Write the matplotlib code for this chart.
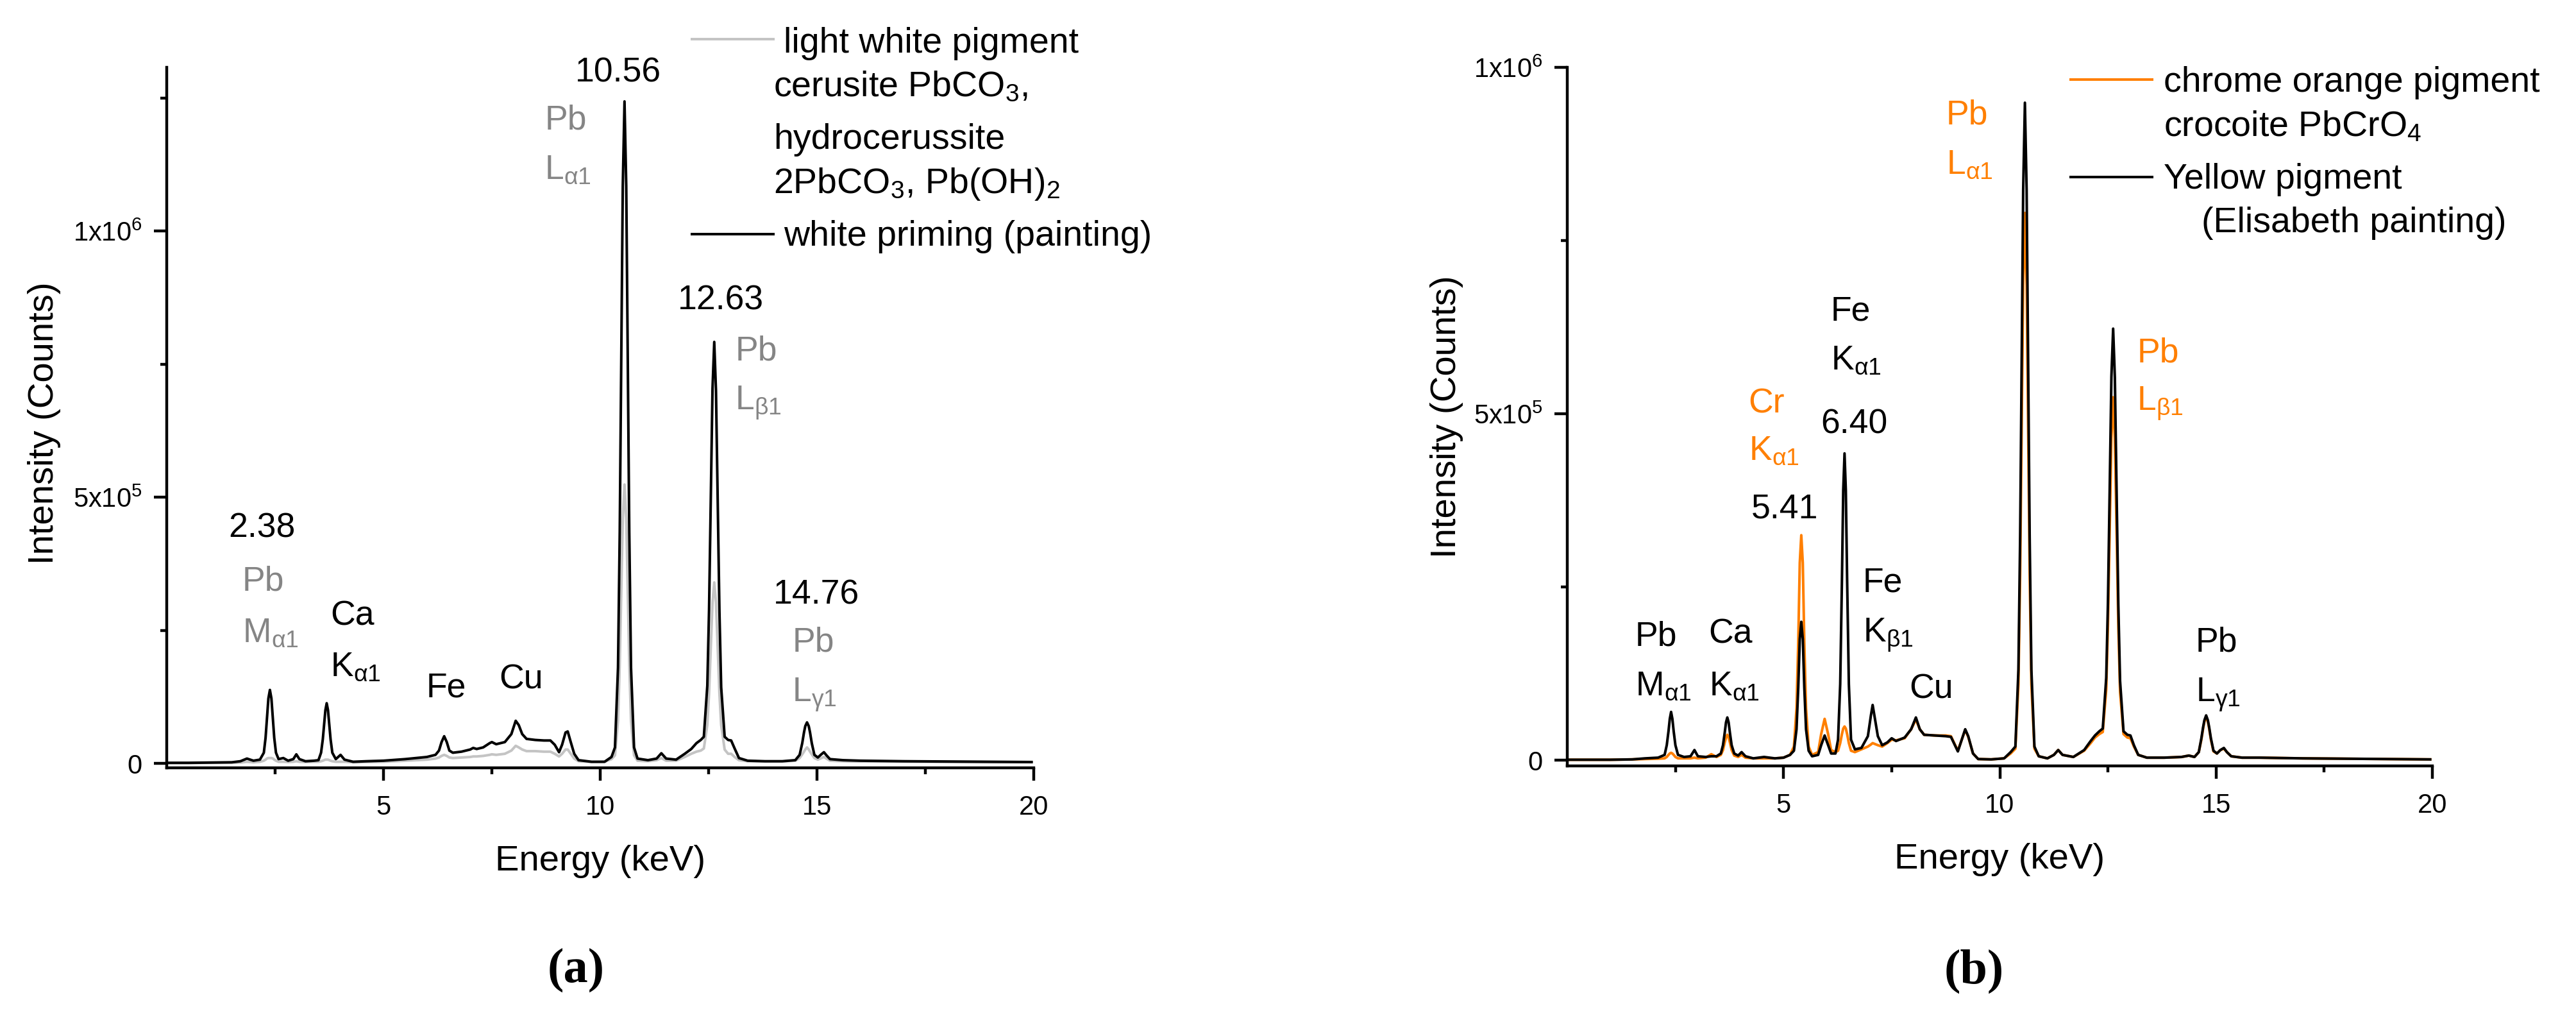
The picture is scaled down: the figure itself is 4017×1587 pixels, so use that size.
import matplotlib
matplotlib.use("Agg")
import matplotlib.pyplot as plt
from matplotlib.ticker import FixedLocator

plt.rcParams['font.family'] = ['Liberation Sans', 'DejaVu Sans']
plt.rcParams['mathtext.fontset'] = 'custom'
plt.rcParams['mathtext.rm'] = 'Liberation Sans'
plt.rcParams['mathtext.it'] = 'Liberation Sans:italic'
plt.rcParams['mathtext.bf'] = 'Liberation Sans:bold'

# ---- panel (a): white priming vs. lead white reference (counts in thousands)
energy_a = [
    0.05, 0.5, 1.0, 1.5, 1.7, 1.85, 2.0, 2.15, 2.24, 2.28,
    2.31, 2.345, 2.38, 2.415, 2.45, 2.48, 2.52, 2.58, 2.69, 2.8,
    2.92, 2.99, 3.06, 3.2, 3.4, 3.5, 3.56, 3.6, 3.63, 3.66,
    3.69, 3.72, 3.75, 3.78, 3.82, 3.9, 4.01, 4.1, 4.3, 4.6,
    5.0, 5.5, 6.0, 6.2, 6.28, 6.34, 6.40, 6.46, 6.52, 6.6,
    6.8, 7.0, 7.07, 7.15, 7.3, 7.45, 7.5, 7.6, 7.8, 7.95,
    8.05, 8.12, 8.2, 8.3, 8.5, 8.7, 8.85, 8.95, 9.05, 9.12,
    9.2, 9.25, 9.32, 9.4, 9.5, 9.8, 10.1, 10.26, 10.34, 10.41,
    10.45, 10.485, 10.52, 10.56, 10.60, 10.635, 10.67, 10.71, 10.78, 10.86,
    11.1, 11.3, 11.41, 11.52, 11.75, 11.95, 12.1, 12.22, 12.32, 12.39,
    12.47, 12.51, 12.55, 12.59, 12.63, 12.67, 12.71, 12.75, 12.79, 12.87,
    12.95, 13.02, 13.1, 13.2, 13.4, 13.8, 14.2, 14.5, 14.6, 14.66,
    14.7, 14.73, 14.77, 14.81, 14.84, 14.88, 14.94, 15.02, 15.1, 15.16,
    15.22, 15.3, 15.6, 16.0, 17.0, 18.0, 19.0, 19.95,
]
priming_a = [
    1, 1, 1.5, 2, 4, 9, 5, 7, 20, 48,
    83, 122, 138, 122, 83, 48, 20, 8, 10, 5,
    8, 17, 8, 4, 5, 6, 20, 45, 72, 100,
    113, 100, 72, 45, 20, 8, 16, 7, 3, 4,
    5, 8, 12, 16, 24, 40, 51, 40, 24, 20,
    22, 26, 29, 27, 30, 38, 40, 36, 40, 55,
    80, 72, 55, 46, 44, 43, 43, 35, 21, 35,
    58, 60, 40, 18, 6, 3, 3, 12, 30, 180,
    435, 765, 1085, 1244, 1085, 765, 435, 180, 30, 9,
    6, 9, 19, 9, 7, 18, 27, 38, 44, 50,
    146, 288, 498, 704, 792, 701, 495, 285, 143, 50,
    44, 43, 28, 10, 5, 4, 4, 6, 16, 38,
    58, 70, 77, 70, 58, 38, 16, 11, 17, 21,
    15, 8, 6, 5, 4, 3.5, 3, 2.5,
]
lead_white_a = [
    0.5, 0.5, 0.8, 1, 1.5, 3, 2, 3, 5, 7,
    9, 10, 10, 10, 9, 7, 5, 3, 3, 2.5,
    3, 4, 3, 2.5, 3, 3, 4, 5, 6, 7,
    7, 7, 6, 5, 4, 3, 3, 3, 2, 2.5,
    3, 5, 7, 9, 11, 14, 16, 14, 11, 10,
    11, 12, 13, 13, 14, 16, 17, 16, 18, 24,
    33, 30, 26, 23, 23, 22, 22, 18, 13, 18,
    26, 26, 18, 9, 4, 2.5, 3, 8, 15, 80,
    187, 325, 460, 524, 460, 325, 187, 80, 15, 5,
    4, 6, 10, 5, 5, 12, 18, 22, 24, 28,
    72, 131, 218, 303, 340, 303, 218, 131, 72, 26,
    18, 18, 12, 6, 4, 3.5, 3.5, 5, 10, 17,
    22, 26, 30, 26, 22, 17, 10, 7, 10, 12,
    9, 5, 4, 3.5, 3, 2.5, 2, 2,
]

# ---- panel (b): chrome orange reference vs. yellow pigment (counts in thousands)
energy_b = [
    0.05, 0.5, 1.0, 1.5, 1.8, 2.1, 2.25, 2.30, 2.34, 2.37,
    2.40, 2.43, 2.46, 2.50, 2.56, 2.7, 2.85, 2.94, 3.02, 3.2,
    3.33, 3.45, 3.55, 3.6, 3.64, 3.67, 3.70, 3.73, 3.76, 3.8,
    3.86, 3.95, 4.03, 4.12, 4.3, 4.55, 4.8, 5.0, 5.15, 5.24,
    5.3, 5.34, 5.375, 5.41, 5.445, 5.48, 5.52, 5.58, 5.66, 5.8,
    5.87, 5.95, 6.03, 6.1, 6.2, 6.26, 6.31, 6.35, 6.38, 6.41,
    6.44, 6.47, 6.51, 6.56, 6.65, 6.8, 6.95, 7.02, 7.06, 7.1,
    7.18, 7.28, 7.4, 7.5, 7.6, 7.8, 7.95, 8.06, 8.15, 8.25,
    8.5, 8.75, 8.87, 9.03, 9.12, 9.2, 9.27, 9.38, 9.5, 9.8,
    10.1, 10.25, 10.36, 10.43, 10.47, 10.505, 10.54, 10.58, 10.62, 10.655,
    10.69, 10.73, 10.8, 10.9, 11.1, 11.25, 11.35, 11.45, 11.7, 11.95,
    12.1, 12.2, 12.3, 12.38, 12.46, 12.50, 12.54, 12.58, 12.62, 12.66,
    12.70, 12.74, 12.78, 12.86, 12.95, 13.02, 13.1, 13.2, 13.4, 13.8,
    14.2, 14.37, 14.5, 14.6, 14.66, 14.7, 14.73, 14.77, 14.81, 14.84,
    14.88, 14.94, 15.02, 15.1, 15.18, 15.25, 15.35, 15.6, 16.0, 17.0,
    18.0, 19.0, 19.95,
]
yellow_b = [
    1, 1, 1, 1.5, 3, 4, 8, 22, 42, 60,
    70, 60, 42, 22, 8, 5, 6, 15, 6, 5,
    6, 6, 10, 22, 40, 55, 62, 55, 40, 22,
    10, 7, 12, 6, 3, 5, 3, 4, 8, 14,
    45, 105, 175, 200, 175, 105, 45, 14, 6, 8,
    22, 36, 22, 10, 10, 30, 110, 260, 390, 443,
    390, 260, 110, 30, 16, 18, 35, 65, 80, 65,
    35, 22, 26, 32, 28, 33, 45, 62, 45, 37,
    36, 35, 34, 13, 30, 45, 35, 10, 2, 1.5,
    3, 12, 20, 131, 324, 576, 823, 949, 823, 576,
    324, 131, 20, 6, 3, 8, 15, 8, 5, 15,
    28, 36, 42, 46, 119, 229, 394, 554, 623, 552,
    390, 225, 115, 42, 37, 36, 22, 8, 4, 4,
    5, 7, 5, 12, 32, 48, 58, 65, 58, 48,
    32, 14, 10, 15, 18, 12, 6, 4, 4, 3,
    2.5, 2, 1.5,
]
chrome_b = [
    1, 1, 1, 1.5, 2, 2.5, 3, 5, 8, 10,
    11, 10, 8, 5, 3, 3, 3, 4, 3, 4,
    9, 5, 8, 15, 26, 33, 37, 33, 26, 15,
    7, 5, 8, 4, 3, 3, 3, 4, 8, 20,
    75, 170, 285, 325, 285, 170, 75, 20, 8, 12,
    38, 60, 38, 15, 12, 14, 25, 38, 46, 49,
    46, 38, 25, 14, 12, 16, 20, 23, 25, 24,
    22, 20, 25, 30, 29, 32, 45, 59, 45, 37,
    36, 36, 35, 14, 30, 44, 34, 10, 2, 1.5,
    3, 10, 17, 109, 270, 480, 685, 790, 685, 480,
    270, 109, 17, 6, 3, 8, 15, 8, 5, 14,
    25, 33, 38, 41, 102, 195, 332, 466, 524, 464,
    329, 192, 99, 38, 33, 32, 20, 8, 4, 4,
    5, 7, 5, 12, 30, 46, 56, 62, 56, 46,
    30, 13, 10, 15, 17, 12, 6, 4, 4, 3,
    2.5, 2, 1.5,
]

GRAY_TXT = '#858585'
GRAY_LINE = '#c4c4c4'
ORANGE = '#ff7f00'

a1 = r'$_{\mathregular{α1}}$'
b1 = r'$_{\mathregular{β1}}$'
g1 = r'$_{\mathregular{γ1}}$'

# peak annotations: text, energy (keV), counts, colour
labels_a = [
    ('2.38', 1.42, 425e3, 'black'), ('Pb', 1.74, 325e3, GRAY_TXT), ('M' + a1, 1.74, 228e3, GRAY_TXT),
    ('Ca', 3.77, 260e3, 'black'), ('K' + a1, 3.77, 164e3, 'black'),
    ('Fe', 5.98, 125e3, 'black'), ('Cu', 7.67, 140e3, 'black'),
    ('10.56', 9.42, 1281e3, 'black'), ('Pb', 8.72, 1192e3, GRAY_TXT), ('L' + a1, 8.72, 1099e3, GRAY_TXT),
    ('12.63', 11.79, 853e3, 'black'), ('Pb', 13.11, 758e3, GRAY_TXT), ('L' + b1, 13.11, 665e3, GRAY_TXT),
    ('14.76', 13.99, 300e3, 'black'), ('Pb', 14.43, 210e3, GRAY_TXT), ('L' + g1, 14.43, 116e3, GRAY_TXT),
]
labels_b = [
    ('Pb', 1.57, 166e3, 'black'), ('M' + a1, 1.57, 94e3, 'black'),
    ('Ca', 3.27, 169e3, 'black'), ('K' + a1, 3.27, 94e3, 'black'),
    ('Cr', 4.19, 502e3, ORANGE), ('K' + a1, 4.19, 434e3, ORANGE), ('5.41', 4.25, 350e3, 'black'),
    ('Fe', 6.09, 635e3, 'black'), ('K' + a1, 6.09, 564e3, 'black'), ('6.40', 5.86, 472e3, 'black'),
    ('Fe', 6.83, 243e3, 'black'), ('K' + b1, 6.83, 171e3, 'black'),
    ('Cu', 7.90, 90e3, 'black'),
    ('Pb', 8.76, 918e3, ORANGE), ('L' + a1, 8.76, 847e3, ORANGE),
    ('Pb', 13.17, 575e3, ORANGE), ('L' + b1, 13.17, 505e3, ORANGE),
    ('Pb', 14.53, 157e3, 'black'), ('L' + g1, 14.53, 85e3, 'black'),
]

fig = plt.figure(figsize=(40.17, 15.87), dpi=100)
W, H = 4017, 1587
ax_a = fig.add_axes([260 / W, 390 / H, 1352 / W, 1092 / H])
ax_b = fig.add_axes([2444 / W, 393 / H, 1349 / W, 1089 / H])

k = 1e3
LW = 2.9
ax_a.plot(energy_a, [v * k for v in lead_white_a], color=GRAY_LINE, lw=LW)
ax_a.plot(energy_a, [v * k for v in priming_a], color='black', lw=LW)
ax_b.plot(energy_b, [v * k for v in chrome_b], color=ORANGE, lw=LW)
ax_b.plot(energy_b, [v * k for v in yellow_b], color='black', lw=LW)

ax_a.set_ylim(-8.4e3, 1.308e6)
ax_b.set_ylim(-7.9e3, 1.0e6)

for ax, labels in ((ax_a, labels_a), (ax_b, labels_b)):
    ax.set_xlim(0, 20)
    ax.spines['top'].set_visible(False)
    ax.spines['right'].set_visible(False)
    for s in ('left', 'bottom'):
        ax.spines[s].set_linewidth(3.2)
    ax.xaxis.set_major_locator(FixedLocator([5, 10, 15, 20]))
    ax.xaxis.set_minor_locator(FixedLocator([2.5, 7.5, 12.5, 17.5]))
    ax.yaxis.set_major_locator(FixedLocator([0, 5e5, 1e6]))
    ax.set_yticklabels(['0', r'5x10$^{\mathregular{5}}$', r'1x10$^{\mathregular{6}}$'])
    ax.yaxis.set_minor_locator(FixedLocator([2.5e5, 7.5e5, 1.25e6]))
    ax.tick_params(which='major', direction='out', length=14.4, width=3.2, labelsize=30)
    ax.tick_params(which='minor', direction='out', length=7.2, width=3.2)
    ax.tick_params(axis='x', which='major', pad=16)
    ax.tick_params(axis='y', which='major', pad=13)
    ax.set_xlabel('Energy (keV)', fontsize=40.5)
    ax.set_ylabel('Intensity (Counts)', fontsize=40.5)
    for txt, x, y, c in labels:
        ax.text(x, y, txt, color=c, fontsize=38.5, ha='left', va='baseline', clip_on=False)

ax_a.xaxis.set_label_coords(0.5, -0.1096)
ax_a.yaxis.set_label_coords(-0.122, 0.492)
ax_b.xaxis.set_label_coords(0.5, -0.110)
ax_b.yaxis.set_label_coords(-0.120, 0.5)

# legends drawn by hand to keep the multi-line layout of the original
leg_fs = 40
ax_a.plot([0.6055, 0.6997], [1.0403, 1.0403], transform=ax_a.transAxes, color=GRAY_LINE, lw=LW, clip_on=False)
ax_a.text(0.7115, 1.021, 'light white pigment', transform=ax_a.transAxes, fontsize=leg_fs, va='baseline')
ax_a.text(0.6997, 0.9588, r'cerusite PbCO$_{\mathregular{3}}$,', transform=ax_a.transAxes, fontsize=leg_fs, va='baseline')
ax_a.text(0.6997, 0.8837, 'hydrocerussite', transform=ax_a.transAxes, fontsize=leg_fs, va='baseline')
ax_a.text(0.6997, 0.8205, r'2PbCO$_{\mathregular{3}}$, Pb(OH)$_{\mathregular{2}}$', transform=ax_a.transAxes,
          fontsize=leg_fs, va='baseline')
ax_a.plot([0.6055, 0.6997], [0.7619, 0.7619], transform=ax_a.transAxes, color='black', lw=LW, clip_on=False)
ax_a.text(0.7115, 0.7454, 'white priming (painting)', transform=ax_a.transAxes, fontsize=leg_fs, va='baseline')

ax_b.plot([0.5819, 0.676], [0.983, 0.983], transform=ax_b.transAxes, color=ORANGE, lw=LW, clip_on=False)
ax_b.text(0.6894, 0.9651, 'chrome orange pigment', transform=ax_b.transAxes, fontsize=leg_fs, va='baseline')
ax_b.text(0.6894, 0.9017, r'crocoite PbCrO$_{\mathregular{4}}$', transform=ax_b.transAxes, fontsize=leg_fs, va='baseline')
ax_b.plot([0.5819, 0.676], [0.8434, 0.8434], transform=ax_b.transAxes, color='black', lw=LW, clip_on=False)
ax_b.text(0.6894, 0.8264, 'Yellow pigment', transform=ax_b.transAxes, fontsize=leg_fs, va='baseline')
ax_b.text(0.7331, 0.7640, '(Elisabeth painting)', transform=ax_b.transAxes, fontsize=leg_fs, va='baseline')

fig.text(0.2236, 0.0472, '(a)', fontsize=55, fontweight='bold', family='Liberation Serif', ha='center', va='center')
fig.text(0.7662, 0.0460, '(b)', fontsize=55, fontweight='bold', family='Liberation Serif', ha='center', va='center')

fig.savefig('out.png', dpi=100, facecolor='white')
